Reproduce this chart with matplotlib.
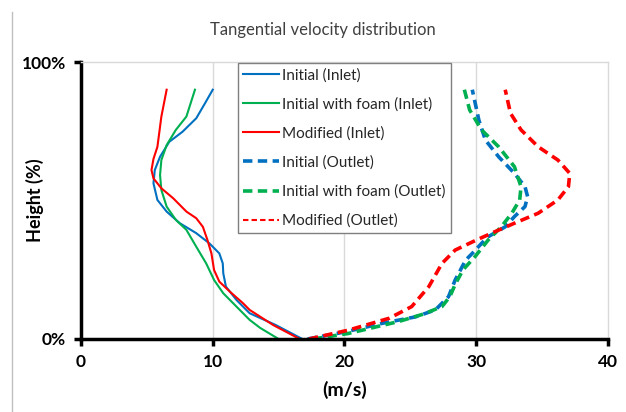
import matplotlib
matplotlib.use("Agg")
import matplotlib.pyplot as plt
from matplotlib.lines import Line2D

plt.rcParams["font.family"] = ["Lato", "DejaVu Sans"]

# heights (%) and tangential velocity (m/s)
ini_in_h = [0, 5, 9.3, 14.1, 18.9, 23.7, 27.3, 30.9, 34.5, 38.2, 41.8, 46, 50.2,
            56.2, 61, 65.8, 71.2, 74.8, 79.7, 85, 90]
ini_in_v = [16.8, 14.8, 12.8, 11.8, 11.0, 10.8, 10.76, 10.5, 9.75, 8.75, 7.5, 6.5,
            5.8, 5.5, 5.6, 6.0, 6.7, 7.7, 8.75, 9.4, 10.0]

foam_in_h = [0, 4, 6.9, 11.7, 16.5, 21.3, 27.3, 33.3, 39.4, 43, 47.8, 53.8, 59.2,
             64.6, 70, 75.5, 80.3, 90]
foam_in_v = [15.0, 13.6, 12.8, 11.8, 10.8, 10.1, 9.5, 8.75, 8.0, 7.2, 6.5, 6.1, 6.0,
             6.1, 6.5, 7.2, 8.0, 8.65]

mod_in_h = [0, 5, 10.5, 12.9, 17.1, 20.7, 24.9, 30.9, 35.7, 40.5, 43.6, 46, 50.8,
            54.4, 58, 61, 65, 69.4, 80.3, 90]
mod_in_v = [16.6, 14.6, 12.8, 12.3, 11.3, 10.5, 10.1, 9.9, 9.6, 9.25, 8.75, 8.0, 7.0,
            6.1, 5.5, 5.35, 5.5, 5.8, 6.1, 6.5]

ini_out_h = [0, 2.6, 5.7, 8, 10.5, 15.3, 21.3, 28.5, 30.9, 34.5, 36.9, 40.5, 44.2,
             47.8, 51.4, 55, 59.8, 65.8, 71.8, 79, 90]
ini_out_v = [17.2, 20.1, 22.9, 25.4, 26.9, 27.9, 28.4, 29.2, 29.7, 30.4, 30.9, 32.2,
             32.9, 33.7, 33.9, 33.7, 32.9, 31.7, 30.7, 30.2, 29.7]

foam_out_h = [0, 2, 6.3, 9, 11.7, 15.3, 19.7, 25, 29.7, 35.7, 40.5, 45.4, 50.2, 55,
              62.2, 69.4, 75.5, 82.7, 90]
foam_out_v = [17.6, 20.3, 24.1, 26.0, 27.4, 28.0, 28.4, 29.0, 29.9, 30.9, 31.9, 32.7,
              33.3, 33.4, 32.9, 31.7, 30.4, 29.5, 29.1]

mod_out_h = [0, 3.2, 7.5, 11.7, 18.9, 27.3, 32.1, 35.7, 38.7, 41.8, 45.4, 50.2, 55,
             59.8, 64.6, 69.4, 75.5, 81.5, 90]
mod_out_v = [17.3, 20.3, 23.4, 25.1, 26.4, 27.4, 28.4, 30.0, 31.4, 32.9, 34.7, 36.2,
             37.0, 37.1, 36.2, 34.7, 33.4, 32.6, 32.2]

BLUE = "#0070C0"
GREEN = "#00B050"
RED = "#FF0000"

fig = plt.figure(figsize=(6.26, 4.12), dpi=100)
ax = fig.add_axes([0.1294, 0.1772, 0.8418, 0.6723])

ax.plot(ini_in_v, ini_in_h, color=BLUE, lw=1.5, label="Initial (Inlet)")
ax.plot(foam_in_v, foam_in_h, color=GREEN, lw=1.5, label="Initial with foam (Inlet)")
ax.plot(mod_in_v, mod_in_h, color=RED, lw=1.5, label="Modified (Inlet)")
dash = (2.6, 1.5)
ax.plot(ini_out_v, ini_out_h, color=BLUE, lw=2.6, dashes=dash, label="Initial (Outlet)")
ax.plot(foam_out_v, foam_out_h, color=GREEN, lw=2.6, dashes=dash,
        label="Initial with foam (Outlet)")
ax.plot(mod_out_v, mod_out_h, color=RED, lw=2.6, dashes=dash, label="Modified (Outlet)")

ax.set_xlim(0, 40)
ax.set_ylim(0, 100)
ax.set_xticks([0, 10, 20, 30, 40])
ax.set_yticks([0, 100])
ax.set_yticklabels(["0%", "100%"])
for x in (10, 20, 30):
    ax.axvline(x, color="#d9d9d9", lw=1, zorder=0)

for s in ("left", "bottom"):
    ax.spines[s].set_linewidth(2.5)
    ax.spines[s].set_color("black")
for s in ("right", "top"):
    ax.spines[s].set_linewidth(1)
    ax.spines[s].set_color("#d9d9d9")

ax.tick_params(width=2.5, length=5, direction="out", labelsize=12.5, pad=6)
for lab in ax.get_xticklabels() + ax.get_yticklabels():
    lab.set_fontweight("bold")

ax.set_xlabel("(m/s)", fontsize=14, fontweight="bold", labelpad=8)
ax.set_ylabel("Height (%)", fontsize=13, fontweight="bold", va="center")
ax.yaxis.set_label_coords(-0.087, 0.5)

fig.text(0.515, 0.927, "Tangential velocity distribution", ha="center", va="center",
         fontsize=12, color="#404040")

leg = ax.legend(loc="upper left", bbox_to_anchor=(0.298, 0.998), fontsize=11,
                frameon=True, fancybox=False, framealpha=1, edgecolor="#7f7f7f",
                handlelength=2.3, handletextpad=0.25, labelspacing=0.97,
                borderpad=0.35, borderaxespad=0)
leg.get_frame().set_linewidth(1)
for t in leg.get_texts():
    t.set_color("#262626")
leg.get_lines()[5].set_linewidth(1.5)

fig.add_artist(Line2D([12 / 626, 12 / 626], [0, 1 - 12 / 412], color="#bfbfbf", lw=1))

fig.savefig("out.png", dpi=100)
